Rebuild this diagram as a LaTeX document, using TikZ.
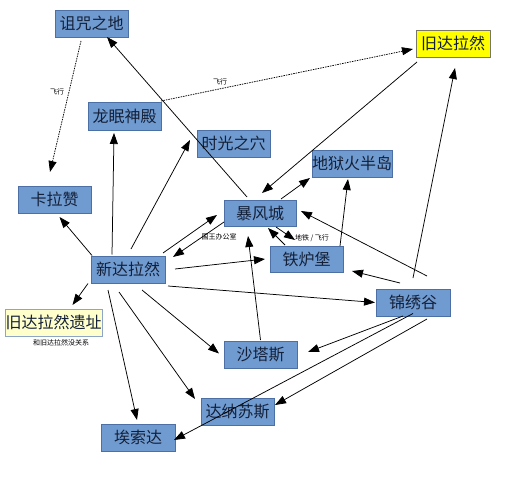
\documentclass[tikz,border=0pt]{standalone}
\usepackage{fontspec}
\newfontfamily\cjk{Noto Sans CJK SC}
\usetikzlibrary{arrows.meta,calc}
\definecolor{boxfill}{RGB}{112,155,208}
\definecolor{boxline}{RGB}{76,112,165}
\definecolor{textc}{RGB}{20,32,56}
\definecolor{yelfill}{RGB}{255,255,0}
\definecolor{yelline}{RGB}{120,120,100}
\definecolor{palefill}{RGB}{255,255,204}
\definecolor{paleline}{RGB}{140,165,200}
\begin{document}
\begin{tikzpicture}[x=1pt,y=-1pt,
  box/.style={draw=boxline, fill=boxfill, line width=0.8pt, minimum width=73pt, minimum height=27pt, inner sep=0pt, font=\cjk\fontsize{16}{18}\selectfont, text=textc},
  arr/.style={-{Triangle[length=11pt,width=8pt]}, line width=0.75pt, black},
  dsh/.style={arr, dashed, dash pattern=on 1.5pt off 1pt},
  lbl/.style={font=\cjk\fontsize{7}{8}\selectfont, inner sep=0pt, text=black}]
\useasboundingbox (0,0) rectangle (521,481);
\fill[white] (0,0) rectangle (521,481);
% nodes
\node[box] (zz) at (91.5,23.5) {诅咒之地};
\node[box, fill=yelfill, draw=yelline, minimum width=74pt] (jd) at (453,43.5) {旧达拉然};
\node[box, minimum height=28pt] (lm) at (124.5,116) {龙眠神殿};
\node[box] (sg) at (233.5,143.5) {时光之穴};
\node[box, minimum width=80pt] (dy) at (352,163.5) {地狱火半岛};
\node[box] (klz) at (54.5,199.5) {卡拉赞};
\node[box, minimum width=72pt, minimum height=26pt] (bf) at (260,213) {暴风城};
\node[box, minimum width=74pt] (xd) at (128,269.5) {新达拉然};
\node[box, minimum height=26pt] (tl) at (306.5,259) {铁炉堡};
\node[box, minimum width=74pt] (jx) at (413,302.5) {锦绣谷};
\node[box, fill=palefill, draw=paleline, minimum width=97pt] (yz) at (53.5,322.5) {旧达拉然遗址};
\node[box] (st) at (260.5,354.5) {沙塔斯};
\node[box] (dn) at (237.5,411.5) {达纳苏斯};
\node[box, minimum width=74pt] (as) at (138,437.5) {埃索达};
% labels
\node[lbl] (l1) at (57,92) {飞行};
\node[lbl] (l2) at (220,82) {飞行};
\node[lbl] (l3) at (219,237) {国王办公室};
\node[lbl] (l4) at (312,238) {地铁 / 飞行};
\node[lbl] (l5) at (61,343) {和旧达拉然没关系};
% edges
\draw[dsh] ($(zz)+(-10.5,17.5)$) -- ($(klz)+(-4.5,-27.5)$);
\draw[dsh] ($(lm)+(36.5,-15)$) -- ($(jd)+(-40,5.5)$);
\draw[arr] ($(bf)+(-13,-16)$) -- ($(zz)+(15.5,13.5)$);
\draw[arr] ($(jd)+(-36,18.5)$) -- ($(bf)+(2,-20)$);
\draw[arr] ($(bf)+(21,-14)$) -- ($(dy)+(-42,14.5)$);
\draw[arr] ($(tl)+(33.5,-13)$) -- ($(dy)+(-4,15.5)$);
\draw[arr] ($(jx)+(14,-26.5)$) -- ($(bf)+(41,-2)$);
\draw[arr] ($(jx)+(0,-24.5)$) -- ($(jd)+(2,24.5)$);
\draw[arr] ($(jx)+(-13,-19.5)$) -- ($(tl)+(45.5,12)$);
\draw[arr] ($(xd)+(40,16.5)$) -- ($(jx)+(-38,0)$);
\draw[arr] ($(jx)+(-10,13.5)$) -- ($(st)+(47.5,-2.5)$);
\draw[arr] ($(jx)+(14,16.5)$) -- ($(dn)+(37.5,-6.5)$);
\draw[arr] ($(jx)+(0,11)$) -- ($(as)+(36,2.5)$);
\draw[arr] ($(st)+(0,-14.5)$) -- ($(bf)+(-12,23)$);
\draw[arr] ($(xd)+(35,-16.5)$) -- ($(bf)+(-43,2)$);
\draw[arr] ($(bf)+(-36,9)$) -- ($(xd)+(45,-12.5)$);
\draw[arr] ($(xd)+(47,-0.5)$) -- ($(tl)+(-41.5,0)$);
\draw[arr] ($(tl)+(-21.5,-14)$) -- ($(bf)+(8,15)$);
\draw[arr] ($(bf)+(16,14)$) -- ($(tl)+(-11.5,-19)$);
\draw[arr] ($(xd)+(-36,-14)$) -- ($(klz)+(5,17.5)$);
\draw[arr] ($(xd)+(-16,-15)$) -- ($(lm)+(-10.5,17)$);
\draw[arr] ($(xd)+(3,-20.5)$) -- ($(sg)+(-43.5,-3.5)$);
\draw[arr] ($(xd)+(-40,14)$) -- ($(yz)+(19,-17.5)$);
\draw[arr] ($(xd)+(-20,20.5)$) -- ($(as)+(-1,-17.5)$);
\draw[arr] ($(xd)+(-9,22.5)$) -- ($(dn)+(-42.5,-12.5)$);
\draw[arr] ($(xd)+(14,20.5)$) -- ($(st)+(-41.5,-1)$);
\end{tikzpicture}
\end{document}
